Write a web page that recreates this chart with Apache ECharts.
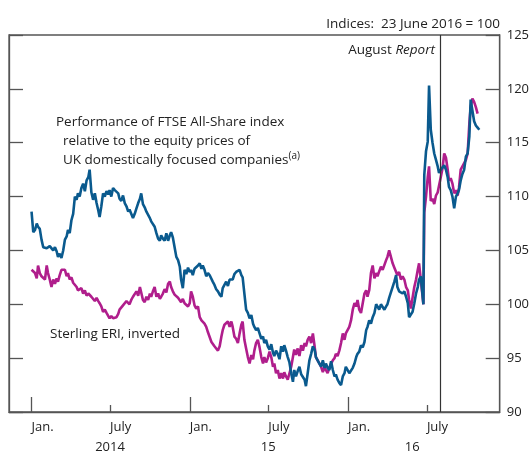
<!DOCTYPE html>
<html>
<head>
<meta charset="utf-8">
<title>FTSE relative performance and sterling ERI</title>
<script src="https://cdn.jsdelivr.net/npm/echarts@6.0.0/dist/echarts.min.js"></script>
<style>
html,body{margin:0;padding:0;background:#fff;}
#chart{width:532px;height:455px;}
</style>
</head>
<body>
<div id="chart"></div>
<script>
// sample dates, as days since 1 Jan 2014
const days = [
  0,4,8,12,15,19,23,27,31,35, 38,42,46,50,54,58,61,65,69,73,
  77,81,84,88,92,96,100,104,107,111, 115,119,123,127,131,134,138,142,146,150,
  154,157,161,165,169,173,177,180,184,188, 192,196,200,203,207,211,215,219,223,226,
  230,234,238,242,246,250,253,257,261,265, 269,273,276,280,284,288,292,296,299,303,
  307,311,315,319,322,326,330,334,338,342, 345,349,353,357,361,365,368,372,376,380,
  384,388,392,395,399,403,407,411,415,418, 422,426,430,434,438,441,445,449,453,457,
  461,464,468,472,476,480,484,487,491,495, 499,503,507,511,514,518,522,526,530,534,
  537,541,545,549,553,557,560,564,568,572, 576,580,583,587,591,595,599,603,606,610,
  614,618,622,626,630,633,637,641,645,649, 653,656,660,664,668,672,676,679,683,687,
  691,695,699,702,706,710,714,718,722,725, 729,733,737,741,745,749,752,756,760,764,
  768,772,775,779,783,787,791,795,798,802, 806,810,814,818,821,825,829,833,837,841,
  844,848,852,856,860,864,868,871,875,879, 883,887,891,894,898,904,906,910,914,917,
  921,925,929,933,937,940,944,948,952,956, 960,963,967,971,975,979,983,986,990,994,
  998,1002,1006,1010,1013,1017,1021,1025,1029,1033
];

// FTSE All-Share relative to UK domestically focused companies
const ftseRelative = [
  108.6,106.7,106.9,107.5,107.2,107.0,106.0,105.3,105.4,105.2,
  105.3,105.4,105.5,105.0,105.3,104.9,104.4,104.7,104.3,105.0,
  106.0,106.3,106.9,106.6,107.8,108.4,110.0,109.7,110.3,110.0,
  110.8,111.2,110.5,111.5,111.8,112.5,110.4,109.7,110.3,109.4,
  108.7,108.1,109.1,110.3,110.0,110.5,110.2,110.6,110.0,110.8,
  110.6,110.5,110.3,109.8,109.6,110.1,109.4,109.1,108.6,108.8,
  108.4,108.0,108.4,108.9,109.4,109.8,110.3,109.3,109.0,108.6,
  108.5,108.0,107.7,107.8,107.2,106.6,106.1,105.9,106.4,106.1,
  105.9,106.6,105.9,106.4,106.7,106.2,105.3,104.4,104.1,103.5,
  102.3,101.5,103.2,102.8,103.4,103.0,103.2,102.7,103.3,103.2,
  103.6,103.8,103.3,103.6,103.2,102.6,102.9,102.7,102.6,102.1,
  101.8,101.4,101.2,100.9,100.7,101.5,101.8,102.1,101.7,102.3,
  102.4,102.3,102.8,103.0,102.9,103.2,102.7,102.5,101.0,99.5,
  99.2,98.7,99.0,98.2,97.9,97.6,97.8,97.3,96.8,97.0,
  96.4,96.7,96.1,95.8,96.3,95.5,95.2,95.7,95.4,94.9,
  96.1,95.6,96.2,95.7,95.1,94.6,93.6,92.8,93.9,93.3,
  93.8,94.2,93.5,93.6,93.0,92.4,93.6,94.8,95.4,96.1,
  95.8,95.1,94.8,94.5,94.2,94.8,94.1,94.5,94.1,93.9,
  94.7,93.9,93.3,93.5,93.0,92.7,92.5,93.3,93.6,94.2,
  94.1,93.6,93.5,94.1,94.5,95.1,95.4,95.6,96.2,96.0,
  96.5,97.6,97.9,98.5,98.2,98.8,99.2,100.0,99.8,99.5,
  100.0,100.1,99.5,99.8,100.0,100.6,101.1,101.2,102.1,102.7,
  101.6,101.2,101.3,101.0,101.2,100.7,100.1,98.8,98.7,99.3,
  100.1,101.0,101.6,102.3,102.6,100.0,112.0,114.2,115.1,120.3,
  116.2,115.0,114.0,113.4,112.8,112.2,112.5,112.5,112.9,112.5,
  111.8,110.9,110.6,110.0,108.9,110.0,110.3,110.6,111.5,112.1,
  112.5,113.7,114.0,115.6,119.0,118.9,117.0,116.6,116.4,116.2
];

// Sterling ERI, inverted
const sterlingInverted = [
  103.2,103.3,102.9,102.4,103.6,102.9,102.6,102.7,102.3,103.6,
  102.9,102.3,101.6,102.3,101.9,102.4,102.1,102.7,103.2,103.1,
  103.2,102.6,102.9,102.3,102.5,102.0,102.1,101.6,101.3,101.2,
  101.5,101.0,101.3,100.8,101.0,101.1,100.7,100.8,100.3,100.6,
  100.3,100.1,99.8,99.3,99.5,99.2,99.3,98.7,98.9,98.7,
  98.7,98.8,99.1,99.5,99.4,99.9,99.8,100.3,100.2,100.0,
  100.4,100.7,100.6,101.2,100.8,101.6,101.1,100.4,100.2,100.7,
  100.4,101.0,100.7,101.2,101.6,100.7,101.0,100.5,100.7,101.0,
  101.4,101.1,101.9,102.1,101.6,101.2,100.9,101.0,100.6,100.7,
  100.2,100.5,100.1,100.2,99.8,100.1,101.2,100.7,99.9,99.6,
  99.8,98.8,98.5,98.6,98.2,97.9,97.4,97.3,96.5,96.4,
  96.1,95.9,95.7,96.1,97.0,97.6,98.1,98.2,98.4,97.9,
  98.4,97.9,97.0,96.8,96.4,97.3,98.1,98.4,96.7,95.9,
  95.1,94.5,95.3,94.9,95.7,96.4,96.7,96.0,95.1,94.5,
  95.1,94.6,95.0,95.6,95.1,94.2,94.5,93.6,93.9,93.1,
  93.6,93.1,93.7,93.3,93.0,93.6,94.2,95.1,95.8,95.3,
  95.9,95.2,96.2,95.7,96.4,96.1,96.7,97.0,96.4,97.3,
  96.1,95.1,94.8,94.9,94.2,93.7,94.2,93.9,93.6,94.1,
  94.5,94.8,95.0,95.4,95.2,95.7,96.4,97.3,96.7,97.3,
  97.6,97.9,98.5,99.5,100.1,99.8,100.4,99.5,99.2,100.1,
  101.0,101.3,100.7,101.3,102.9,103.6,102.4,102.9,102.6,102.7,
  103.5,103.2,103.3,104.1,104.4,105.0,104.4,103.8,103.4,103.0,
  102.7,103.0,102.3,102.6,102.3,101.6,101.3,100.4,99.6,100.6,
  101.6,102.3,103.2,103.8,103.9,100.0,108.5,110.0,111.8,112.8,
  109.6,109.8,109.3,110.1,110.4,111.0,111.8,112.6,114.0,113.6,
  112.5,111.5,111.7,111.2,110.3,110.6,110.1,110.8,112.5,112.8,
  113.1,113.4,114.0,116.8,118.3,119.1,118.8,118.3,117.7
];

const janDays = [0, 365, 730];
const julyDays = [181, 546, 912];
const monthDays = [0, 181, 365, 546, 730, 912];
const monthNames = ['Jan.', 'July', 'Jan.', 'July', 'Jan.', 'July'];
const yearDays = [181, 546, 878];
const yearNames = ['2014', '15', '16'];
const reportDay = 943; // August Inflation Report
const xMin = -52, xMax = 1080;

const font = 'Open Sans';
const ink = '#222';
const frame = '#555';
const noteFont = '13.5px "Open Sans"';

function pairs(vals) {
  const out = [];
  for (let i = 0; i < vals.length; i++) out.push([days[i], vals[i]]);
  return out;
}

const xBase = {type: 'value', min: xMin, max: xMax, position: 'bottom', splitLine: {show: false}};

let chart = echarts.init(document.getElementById('chart'));
chart.setOption({
  animation: false,
  grid: {left: 9, right: 32, top: 35, bottom: 43, show: true, borderColor: frame, borderWidth: 1.3},
  xAxis: [
    Object.assign({}, xBase, {
      axisLine: {onZero: false, lineStyle: {color: frame, width: 1.3}},
      axisTick: {inside: true, length: 15, customValues: janDays, lineStyle: {color: frame, width: 1.3}},
      axisLabel: {
        customValues: monthDays, align: 'left', margin: 9, color: ink,
        fontFamily: font, fontSize: 13,
        formatter: v => monthNames[monthDays.indexOf(v)]
      }
    }),
    Object.assign({}, xBase, {
      axisLine: {show: false, onZero: false},
      axisTick: {inside: true, length: 7, customValues: julyDays, lineStyle: {color: frame, width: 1.3}},
      axisLabel: {show: false}
    }),
    Object.assign({}, xBase, {
      axisLine: {show: false, onZero: false},
      axisTick: {show: false},
      axisLabel: {
        customValues: yearDays, margin: 29, color: ink, fontFamily: font, fontSize: 13,
        formatter: v => yearNames[yearDays.indexOf(v)]
      }
    })
  ],
  yAxis: [
    {
      type: 'value', position: 'right', min: 90, max: 125, interval: 5,
      splitLine: {show: false},
      axisLine: {show: true, onZero: false, lineStyle: {color: frame, width: 1.3}},
      axisTick: {inside: true, length: 14, lineStyle: {color: frame, width: 1.3}},
      axisLabel: {margin: 7, color: ink, fontFamily: font, fontSize: 13}
    },
    {
      type: 'value', position: 'left', min: 90, max: 125, interval: 5,
      splitLine: {show: false},
      axisLine: {show: true, onZero: false, lineStyle: {color: frame, width: 1.3}},
      axisTick: {inside: true, length: 14, lineStyle: {color: frame, width: 1.3}},
      axisLabel: {show: false}
    }
  ],
  series: [
    {
      name: 'Sterling ERI, inverted', type: 'line', showSymbol: false,
      data: pairs(sterlingInverted),
      lineStyle: {color: '#b01e8c', width: 2.6}, itemStyle: {color: '#b01e8c'}, z: 2
    },
    {
      name: 'FTSE relative', type: 'line', showSymbol: false,
      data: pairs(ftseRelative),
      lineStyle: {color: '#0a5a8e', width: 2.6}, itemStyle: {color: '#0a5a8e'}, z: 3,
      markLine: {
        silent: true, symbol: 'none', label: {show: false},
        lineStyle: {color: '#333', width: 1.2, type: 'solid'},
        data: [{xAxis: reportDay}]
      }
    }
  ],
  graphic: [
    {type: 'text', x: 500, y: 24, style: {text: 'Indices:  23 June 2016 = 100', fill: ink,
      font: noteFont, align: 'right', verticalAlign: 'middle'}},
    {type: 'text', x: 435, y: 50, style: {
      text: '{a|August }{b|Report}', fill: ink, align: 'right', verticalAlign: 'middle',
      rich: {a: {fontFamily: font, fontSize: 13.5, fill: ink}, b: {fontFamily: font, fontSize: 13.5, fontStyle: 'italic', fill: ink}}
    }},
    {type: 'text', x: 56, y: 122, style: {text: 'Performance of FTSE All-Share index', fill: ink,
      font: noteFont, align: 'left', verticalAlign: 'middle'}},
    {type: 'text', x: 63, y: 141, style: {text: 'relative to the equity prices of', fill: ink,
      font: noteFont, align: 'left', verticalAlign: 'middle'}},
    {type: 'text', x: 63, y: 160, style: {
      text: '{n|UK domestically focused companies}{s|(a)}', fill: ink, align: 'left', verticalAlign: 'middle',
      rich: {n: {fontFamily: font, fontSize: 13.5, lineHeight: 18, fill: ink},
             s: {fontFamily: font, fontSize: 10, verticalAlign: 'top', lineHeight: 12, fill: ink}}
    }},
    {type: 'text', x: 50, y: 334, style: {text: 'Sterling ERI, inverted', fill: ink,
      font: noteFont, align: 'left', verticalAlign: 'middle'}}
  ]
});
</script>
</body>
</html>
